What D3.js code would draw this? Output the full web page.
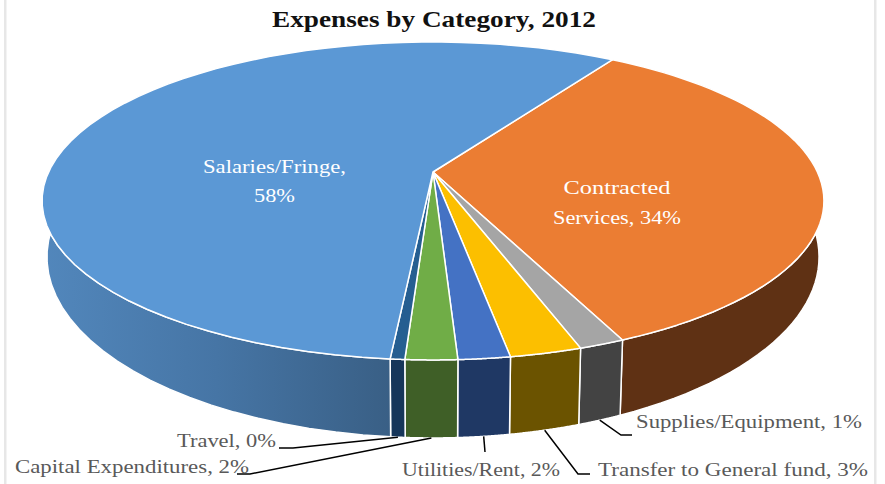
<!DOCTYPE html>
<html>
<head>
<meta charset="utf-8">
<script src="https://cdn.jsdelivr.net/npm/d3@7"></script>
<style>
  html, body { margin: 0; padding: 0; background: #fff; }
  svg { display: block; }
  text { font-family: "Liberation Serif", serif; }
</style>
</head>
<body>
<div id="chart"></div>
<script>
// Data, in drawing order starting from the Contracted Services edge
const categories = ["Contracted Services", "Supplies/Equipment", "Transfer to General fund", "Utilities/Rent", "Capital Expenditures", "Travel", "Salaries/Fringe"];
const shares = [34.2, 1.6, 2.5, 1.8, 1.8, 0.5, 57.6];   // slice sizes
const printedPct = [34, 1, 3, 2, 2, 0, 58];              // percentages as printed in the labels
const topColors = ["#eb7d33", "#a5a5a5", "#fcbf00", "#4472c4", "#70ad47", "#255e91", "#5b98d5"];
const sideColors = ["#5f3114", "#434343", "#6b5300", "#1f3864", "#3f5f27", "#16365a", "url(#salarySide)"];

const w = 885, h = 484;

// Perspective of the pie: a unit disc seen from the front
const tilt = 0.182;
const startAngle = 32.6 * Math.PI / 180;
const topRim = { x: d3.scaleLinear().domain([-1, 1]).range([433 - 384.4, 433 + 384.4]),
                 y: d3.scaleLinear().domain([-1, 1]).range([172 - 153.7, 172 + 153.7]) };
const lowRim = { x: d3.scaleLinear().domain([-1, 1]).range([433 - 379.6, 433 + 379.6]),
                 y: d3.scaleLinear().domain([-1, 1]).range([224 - 175, 224 + 175]) };

function project(rim, a) {
    const u = Math.sin(a), v = -Math.cos(a);
    const d = 1 - tilt * v;
    return [rim.x(u / d), rim.y(v / d)];
}
function rimPoints(rim, a0, a1) {
    return d3.range(0, 61).map(i => project(rim, a0 + (a1 - a0) * i / 60));
}

const svg = d3.select("#chart").append("svg").attr("width", w).attr("height", h);

// Side gradient of the big slice
const grad = svg.append("defs").append("linearGradient").attr("id", "salarySide")
    .attr("gradientUnits", "userSpaceOnUse")
    .attr("x1", 42).attr("x2", 392).attr("y1", 0).attr("y2", 0);
grad.append("stop").attr("offset", "0%").attr("stop-color", "#5287bc");
grad.append("stop").attr("offset", "50%").attr("stop-color", "#4675a5");
grad.append("stop").attr("offset", "100%").attr("stop-color", "#395f85");

// Chart frame edges
svg.append("rect").attr("x", 4).attr("y", 0).attr("width", 2.5).attr("height", h).attr("fill", "#e7e7e7");
svg.append("rect").attr("x", 874).attr("y", 0).attr("width", 2.5).attr("height", h).attr("fill", "#e7e7e7");

const slices = d3.pie().sort(null)
    .startAngle(startAngle).endAngle(startAngle + 2 * Math.PI)(shares);
const closed = d3.line().curve(d3.curveLinearClosed);

// Walls first, tops over them
svg.append("g").selectAll("path").data(slices).enter().append("path")
    .attr("d", d => closed(rimPoints(topRim, d.startAngle, d.endAngle)
        .concat(rimPoints(lowRim, d.startAngle, d.endAngle).reverse())))
    .attr("fill", (d, i) => sideColors[i])
    .attr("stroke", "#fff").attr("stroke-width", 1.5).attr("stroke-linejoin", "round");

svg.append("g").selectAll("path").data(slices).enter().append("path")
    .attr("d", d => closed([[topRim.x(0), topRim.y(0)]].concat(rimPoints(topRim, d.startAngle, d.endAngle))))
    .attr("fill", (d, i) => topColors[i])
    .attr("stroke", "#fff").attr("stroke-width", 1.5).attr("stroke-linejoin", "round");

// Outer labels: [x, baseline, width], leader elbow points
const outer = {
    "Supplies/Equipment": { x: 636, y: 428, len: 226, leader: [[621, 435], [632, 435]] },
    "Transfer to General fund": { x: 598, y: 476, len: 270, leader: [[578, 474], [590, 474]] },
    "Utilities/Rent": { x: 402, y: 476, len: 158, leader: [[485, 452]] },
    "Capital Expenditures": { x: 15, y: 473, len: 234, leader: [[250, 474], [237, 474]] },
    "Travel": { x: 177, y: 447, len: 99, leader: [[293, 448], [279, 448]] }
};
const leader = d3.line();
slices.forEach((d, i) => {
    const o = outer[categories[i]];
    if (!o) return;
    const start = project(lowRim, (d.startAngle + d.endAngle) / 2);
    svg.append("path").attr("d", leader([start].concat(o.leader)))
        .attr("fill", "none").attr("stroke", "#000").attr("stroke-width", 1.5);
    svg.append("text").attr("x", o.x).attr("y", o.y)
        .attr("font-size", 18).attr("fill", "#595959")
        .attr("textLength", o.len).attr("lengthAdjust", "spacingAndGlyphs")
        .text(`${categories[i]}, ${printedPct[i]}%`);
});

// Inner labels, two lines each
const inner = [
    { cat: 6, x: 274.5, lines: [["Salaries/Fringe,", 173, 143], [`${printedPct[6]}%`, 202, 41]] },
    { cat: 0, x: 617, lines: [["Contracted", 194, 107], [`Services, ${printedPct[0]}%`, 224, 128]] }
];
inner.forEach(l => l.lines.forEach(([t, y, len]) => {
    svg.append("text").attr("x", l.x - len / 2).attr("y", y)
        .attr("font-size", 18).attr("fill", "#fff")
        .attr("textLength", len).attr("lengthAdjust", "spacingAndGlyphs")
        .text(t);
}));

svg.append("text").attr("x", 272).attr("y", 27)
    .attr("font-size", 23).attr("font-weight", "bold").attr("fill", "#111")
    .attr("textLength", 324).attr("lengthAdjust", "spacingAndGlyphs")
    .text("Expenses by Category, 2012");
</script>
</body>
</html>
